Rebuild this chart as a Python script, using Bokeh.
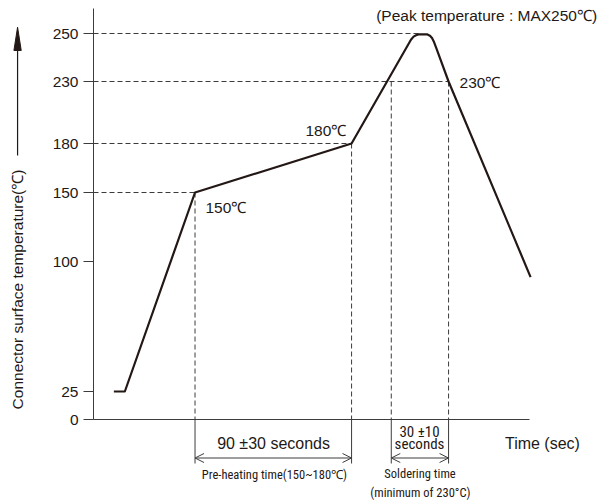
import numpy as np
from bokeh.plotting import figure
from bokeh.models import Range1d, FixedTicker, Arrow, OpenHead
from bokeh.embed import file_html
from bokeh.resources import INLINE
from bokeh.core.properties import value

# ---- data -------------------------------------------------------------
# temperature axis of the drawing is schematic (not linear): tick values and
# the scale position each of them occupies on the axis
TEMP_TICKS = [0, 25, 100, 150, 180, 230, 250]
TICK_LABELS = ["0", "25", "100", "150", "180", "230", "250"]
SCALE_POS = [0, 28, 158, 227, 276, 338, 386]

# reflow profile: time (schematic seconds) and connector surface temperature (°C)
PROFILE_TIME = [11.7, 18.0, 58.3, 148.2, 180.9, 182.3, 183.8, 185.2, 186.6,
                191.8, 193.2, 194.4, 195.4, 196.7, 203.9, 251.0]
PROFILE_TEMP = [25, 25, 150, 180, 245.6, 247.4, 248.7, 249.3, 249.6,
                249.6, 249.1, 248.1, 246.7, 244.2, 230, 91]

# reference levels (°C) and the time each dashed guide reaches
LEVEL_TEMP = [250, 230, 180, 150]
LEVEL_TIME = [186.6, 203.9, 148.2, 58.3]

# marked times: pre-heating (150 -> 180 °C) and soldering (>= 230 °C)
MARK_TIME = [58.3, 148.2, 171.0, 203.9]
MARK_TEMP = [150, 180, 230, 230]
PREHEAT = (58.3, 148.2)
SOLDER = (171.0, 203.9)
X_END = 250.4

INK = "#231815"
LINE = "#3c3c3c"
FONT = "Liberation Sans"
NARROW = "Roboto Condensed"


def ypos(t):
    return np.interp(t, TEMP_TICKS, SCALE_POS)


p = figure(width=598, height=502, x_range=Range1d(-53.405, 290.0), y_range=Range1d(-83, 419),
           output_backend="svg", toolbar_location=None,
           min_border_left=0, min_border_right=0, min_border_top=0, min_border_bottom=0)
p.outline_line_color = None
p.grid.visible = False

# x axis (time, no ticks) drawn at temperature 0
xa = p.xaxis[0]
xa.fixed_location = 0
xa.bounds = (0, X_END)
xa.ticker = FixedTicker(ticks=[])
xa.major_tick_out = 0
xa.major_tick_in = 0
xa.minor_tick_line_color = None
xa.major_label_text_font_size = "0px"
xa.axis_line_color = LINE

# y axis (temperature) drawn at time 0
ya = p.yaxis[0]
ya.fixed_location = 0
ya.ticker = FixedTicker(ticks=SCALE_POS)
ya.major_label_overrides = {pos: lab for pos, lab in zip(SCALE_POS, TICK_LABELS)}
ya.bounds = (0, 411)
ya.major_tick_out = 10
ya.major_tick_in = 0
ya.minor_tick_line_color = None
ya.major_label_standoff = 5
ya.major_label_text_font = FONT
ya.major_label_text_font_size = "15.5px"
ya.major_label_text_color = INK
ya.axis_line_color = LINE
ya.major_tick_line_color = LINE

# dashed guides
lvl_y = ypos(LEVEL_TEMP)
p.segment(x0=[0] * len(LEVEL_TIME), y0=lvl_y, x1=LEVEL_TIME, y1=lvl_y,
          line_color=LINE, line_width=1, line_dash="5 3")
p.segment(x0=MARK_TIME, y0=ypos(MARK_TEMP), x1=MARK_TIME, y1=[0] * len(MARK_TIME),
          line_color=LINE, line_width=1, line_dash="5 3")
p.segment(x0=MARK_TIME, y0=[0] * len(MARK_TIME), x1=MARK_TIME, y1=[-44] * len(MARK_TIME),
          line_color=LINE, line_width=1)

# profile
p.line(PROFILE_TIME, ypos(PROFILE_TEMP), line_color=INK, line_width=2.2, line_join="round")

# double arrows for the durations
for a, b in (PREHEAT, SOLDER):
    p.add_layout(Arrow(start=OpenHead(size=9, line_width=1, line_color=LINE),
                       end=OpenHead(size=9, line_width=1, line_color=LINE),
                       x_start=a, y_start=-38.5, x_end=b, y_end=-38.5,
                       line_color=LINE, line_width=1))

# texts inside the drawing
p.text(x=[64.3, 121.7, 210.2], y=[212, 289, 337], text=["150℃", "180℃", "230℃"],
       text_font=value(FONT), text_font_size="15.5px", text_color=INK,
       text_align="left", text_baseline="middle")
p.text(x=[289.2], y=[404], text=["(Peak temperature : MAX250℃)"],
       text_font=value(FONT), text_font_size="15.5px", text_color=INK,
       text_align="right", text_baseline="middle")
p.text(x=[103.4, 257.8], y=[-24, -24], text=["90 ±30 seconds", "Time (sec)"],
       text_font=value(FONT), text_font_size="16px", text_color=INK,
       text_align="center", text_baseline="middle")
p.text(x=[187.2, 187.2], y=[-12, -24], text=["30 ±10", "seconds"],
       text_font=value(NARROW), text_font_size="15px", text_color=INK,
       text_align="center", text_baseline="middle")
p.text(x=[103.9, 187.5, 187.7], y=[-55, -54, -73],
       text=["Pre-heating time(150~180℃)", "Soldering time", "(minimum of 230°C)"],
       text_font=value(NARROW), text_font_size="12.5px", text_color=INK,
       text_align="center", text_baseline="middle")

# y axis title with upward arrow
p.text(x=[-43.6], y=[130], text=["Connector surface temperature(℃)"], angle=np.pi / 2,
       text_align="center", text_baseline="middle", text_font=value(FONT),
       text_font_size="15.5px", text_color=INK)
p.segment(x0=[-43.6], y0=[264], x1=[-43.6], y1=[372], line_color=INK, line_width=1.2)
p.patch(x=[-45.7, -43.6, -41.5], y=[369, 392.3, 369], fill_color=INK, line_color=INK, line_width=1)

open("out.html", "w").write(file_html(p, INLINE))
